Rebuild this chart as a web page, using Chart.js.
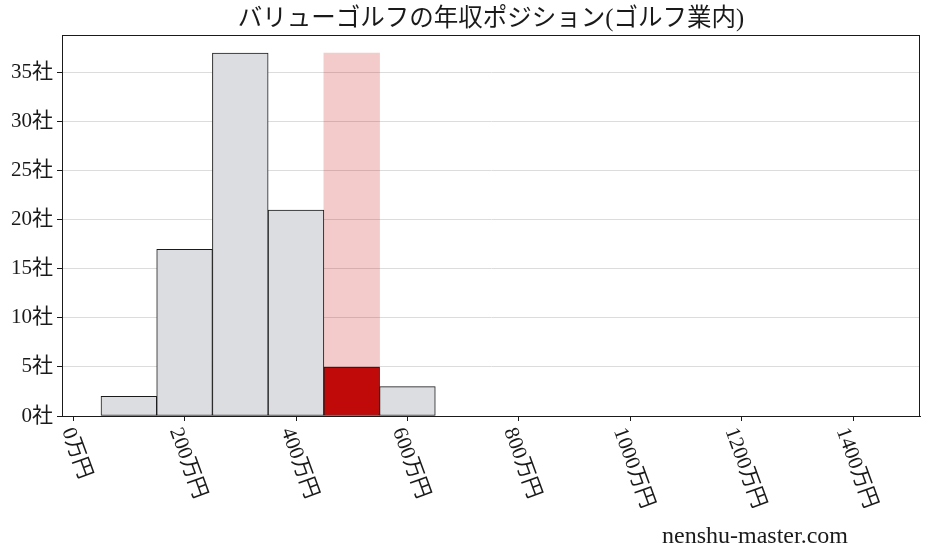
<!DOCTYPE html>
<html>
<head>
<meta charset="utf-8">
<script src="https://cdn.jsdelivr.net/npm/chart.js@4.4.0/dist/chart.umd.min.js"></script>
<style>
html,body{margin:0;padding:0;background:#fff;}
#wrap{width:928px;height:557px;}
</style>
</head>
<body>
<div id="wrap"><canvas id="c" width="928" height="557"></canvas></div>
<script>
const titleText = 'バリューゴルフの年収ポジション(ゴルフ業内)';
const watermark = 'nenshu-master.com';
const binCenters = [100, 200, 300, 400, 500, 600];
const counts = [2, 17, 37, 21, 5, 3];
const highlightIndex = 4;
const xTickValues = [0, 200, 400, 600, 800, 1000, 1200, 1400];
const yTickValues = [0, 5, 10, 15, 20, 25, 30, 35];
const xUnit = '万円';
const yUnit = '社';

const FONT = '"Liberation Serif", "Noto Sans CJK JP", serif';
const maxCount = Math.max(...counts);

const greyData = binCenters.map((x, i) => ({x, y: i === highlightIndex ? null : counts[i]}));
const redData = [{x: binCenters[highlightIndex], y: counts[highlightIndex]}];
const pinkData = [{x: binCenters[highlightIndex], y: maxCount}];

const frame = {
  id: 'frame',
  afterDraw(chart) {
    const {ctx, chartArea: a} = chart;
    ctx.save();
    ctx.strokeStyle = '#1a1a1a';
    ctx.lineWidth = 1;
    ctx.strokeRect(a.left + 0.5, a.top + 0.5, a.right - a.left - 1, a.bottom - a.top);
    // title
    ctx.fillStyle = '#1a1a1a';
    ctx.font = '24.5px ' + FONT;
    ctx.textAlign = 'center';
    ctx.textBaseline = 'middle';
    ctx.fillText(titleText, (a.left + a.right) / 2, 20);
    // x tick labels, rotated clockwise
    const xs = chart.scales.x;
    const th = 70 * Math.PI / 180;
    ctx.font = '21px ' + FONT;
    xTickValues.forEach(v => {
      const label = v + xUnit;
      const w = ctx.measureText(label).width;
      const h = 16;
      const bh = w * Math.sin(th) + h * Math.cos(th);
      const px = xs.getPixelForValue(v);
      ctx.save();
      ctx.translate(px + 3, a.bottom + 10 + bh / 2);
      ctx.rotate(th);
      ctx.textAlign = 'center';
      ctx.textBaseline = 'middle';
      ctx.fillText(label, 0, 0);
      ctx.restore();
    });
    // watermark
    ctx.font = '24px ' + FONT;
    ctx.textAlign = 'right';
    ctx.textBaseline = 'middle';
    ctx.fillText(watermark, 848, 537);
    ctx.restore();
  }
};

new Chart(document.getElementById('c'), {
  type: 'bar',
  data: {
    datasets: [
      {data: redData, backgroundColor: '#c00a0a', borderColor: '#1a1a1a', borderWidth: 1,
       borderSkipped: false, grouped: false, barPercentage: 1, categoryPercentage: 1, order: 1},
      {data: greyData, backgroundColor: '#dcdde0', borderColor: '#1a1a1a', borderWidth: 1,
       borderSkipped: false, grouped: false, barPercentage: 1, categoryPercentage: 1, order: 2},
      {data: pinkData, backgroundColor: 'rgba(200,20,20,0.22)', borderWidth: 0,
       grouped: false, barPercentage: 1, categoryPercentage: 1, order: 3}
    ]
  },
  options: {
    responsive: false,
    animation: false,
    devicePixelRatio: 1,
    layout: {padding: {top: 35, right: 8, left: 0, bottom: 0}},
    plugins: {legend: {display: false}, tooltip: {enabled: false}, title: {display: false}},
    scales: {
      x: {
        type: 'linear', min: -20, max: 1520, offset: false,
        afterBuildTicks: s => { s.ticks = xTickValues.map(v => ({value: v})); },
        afterFit: s => { s.height = 141; },
        ticks: {display: false},
        grid: {offset: false, drawOnChartArea: false, drawTicks: true, tickLength: 5, tickColor: '#1a1a1a', tickWidth: 1},
        border: {color: '#1a1a1a', width: 1}
      },
      y: {
        type: 'linear', min: 0, max: maxCount * 1.05,
        afterBuildTicks: s => { s.ticks = yTickValues.map(v => ({value: v})); },
        afterFit: s => { s.width = 62; },
        ticks: {color: '#1a1a1a', font: {family: FONT, size: 21}, padding: 4,
                callback: v => v + yUnit},
        grid: {color: '#dcdcdc', lineWidth: 1, tickLength: 5, tickColor: '#1a1a1a'},
        border: {color: '#1a1a1a', width: 1}
      }
    }
  },
  plugins: [frame]
});
</script>
</body>
</html>
